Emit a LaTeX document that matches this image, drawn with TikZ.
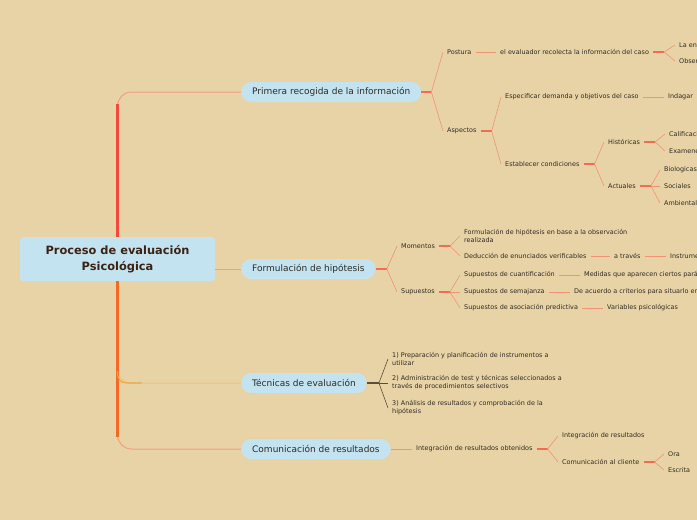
\documentclass[tikz,border=0pt]{standalone}
\usepackage{fontspec}
\setmainfont{DejaVu Sans}
\definecolor{paper}{HTML}{E8D3A7}
\definecolor{bubble}{HTML}{C4E3F0}
\definecolor{ink}{HTML}{2F2A22}
\definecolor{rootink}{HTML}{3B2314}
\definecolor{salmon}{HTML}{EF9475}
\definecolor{stubred}{HTML}{EE6E52}
\definecolor{trunkred}{HTML}{F04C3B}
\definecolor{trunkorange}{HTML}{F36A23}
\definecolor{amber}{HTML}{F7A43A}
\definecolor{paleamber}{HTML}{F2C27A}
\definecolor{palesalmon}{HTML}{EFA07E}
\definecolor{bark}{HTML}{5C4D3A}
\tikzset{
  root/.style={fill=bubble, rounded corners=3pt, minimum width=195pt, minimum height=44pt,
    align=center, text=rootink, font=\fontsize{11.4}{16}\selectfont\bfseries},
  topic/.style={fill=bubble, rounded corners=10pt, minimum height=20pt, inner xsep=11pt,
    anchor=west, text=ink, font=\fontsize{9}{10}\selectfont},
  leaf/.style={anchor=west, inner xsep=4pt, inner ysep=1pt, align=left, text=ink,
    font=\fontsize{6.45}{8}\selectfont},
  link/.style={draw=salmon, line width=0.6pt},
  stub/.style={draw=stubred, line width=1.1pt},
  graylink/.style={draw=bark, line width=0.6pt},
  graystub/.style={draw=bark, line width=1.2pt}
}
\begin{document}
\begin{tikzpicture}[x=1pt,y=-1pt]
    \fill[paper] (0,0) rectangle (697,520);
    \useasboundingbox (0,0) rectangle (697,520);
    \clip (0,0) rectangle (697,520);
    % main nodes
    \node[root] (root) at (117.5,259) {Proceso de evaluación\\Psicológica};
    \node[topic] (prim) at (241,92) {Primera recogida de la información};
    \node[topic] (form) at (241,269) {Formulación de hipótesis};
    \node[topic] (tecn) at (241,383) {Técnicas de evaluación};
    \node[topic] (comm) at (241,449) {Comunicación de resultados};
    % trunk
    \draw[palesalmon,line width=1pt,rounded corners=14pt] (root.north) |- (prim.west);
    \draw[trunkred,line width=2.4pt] (root.north) -- ([yshift=-12pt]root.north |- prim.west);
    \draw[paleamber,line width=1pt,rounded corners=14pt] (root.south) |- (tecn.west);
    \draw[palesalmon,line width=1pt,rounded corners=14pt] (root.south) |- (comm.west);
    \draw[trunkorange,line width=2.4pt] (root.south) -- ([yshift=12pt]root.south |- comm.west);
    \draw[amber,line width=1.2pt,rounded corners=9pt] ([yshift=12pt]root.south |- tecn.west) |- ([xshift=24pt]root.south |- tecn.west);
    \draw[palesalmon,line width=1pt] (root.east |- form.west) -- (form.west);
    % Primera recogida de la informacion
    \node[leaf] (post) at (443,52) {Postura};
    \node[leaf] (evalr) at (496,52) {el evaluador recolecta la información del caso};
    \node[leaf] (entr) at (675,45) {La entrevista};
    \node[leaf] (obs) at (675,61) {Observación};
    \node[leaf] (asp) at (443,131) {Aspectos};
    \node[leaf] (espec) at (501,97) {Especificar demanda y objetivos del caso};
    \node[leaf] (indag) at (664,97) {Indagar};
    \node[leaf] (estab) at (501,164) {Establecer condiciones};
    \node[leaf] (hist) at (604,142) {Históricas};
    \node[leaf] (calif) at (665,134) {Calificaciones};
    \node[leaf] (exam) at (665,151) {Examenes};
    \node[leaf] (actu) at (604,186) {Actuales};
    \node[leaf] (biol) at (660,170) {Biologicas};
    \node[leaf] (soc) at (660,186) {Sociales};
    \node[leaf] (amb) at (660,203) {Ambientales};
    \coordinate (fPrim) at ([xshift=10pt]prim.east);
    \coordinate (fEval) at ([xshift=11pt]evalr.east);
    \coordinate (fAsp) at ([xshift=11pt]asp.east);
    \coordinate (fEstab) at ([xshift=11pt]estab.east);
    \coordinate (fHist) at ([xshift=11pt]hist.east);
    \coordinate (fActu) at ([xshift=11pt]actu.east);
    \draw[stub] (prim.east) -- (fPrim);
    \draw[link] (fPrim) -- (post.west);
    \draw[link] (fPrim) -- (asp.west);
    \draw[link] (post.east) -- (evalr.west);
    \draw[stub] (evalr.east) -- (fEval);
    \draw[link] (fEval) -- (entr.west);
    \draw[link] (fEval) -- (obs.west);
    \draw[stub] (asp.east) -- (fAsp);
    \draw[link] (fAsp) -- (espec.west);
    \draw[link] (fAsp) -- (estab.west);
    \draw[link] (espec.east) -- (indag.west);
    \draw[stub] (estab.east) -- (fEstab);
    \draw[link] (fEstab) -- (hist.west);
    \draw[link] (fEstab) -- (actu.west);
    \draw[stub] (hist.east) -- (fHist);
    \draw[link] (fHist) -- (calif.west);
    \draw[link] (fHist) -- (exam.west);
    \draw[stub] (actu.east) -- (fActu);
    \draw[link] (fActu) -- (biol.west);
    \draw[link] (fActu) -- (soc.west);
    \draw[link] (fActu) -- (amb.west);
    % Formulacion de hipotesis
    \node[leaf] (mom) at (397,246) {Momentos};
    \node[leaf] (sup) at (397,292) {Supuestos};
    \node[leaf] (fobs) at (460,236) {Formulación de hipótesis en base a la observación\\realizada};
    \node[leaf] (deduc) at (460,256) {Deducción de enunciados verificables};
    \node[leaf] (atrav) at (610,256) {a través};
    \node[leaf] (instr) at (666,256) {Instrumentos};
    \node[leaf] (cuant) at (460,275) {Supuestos de cuantificación};
    \node[leaf] (medid) at (580,275) {Medidas que aparecen ciertos parámetros};
    \node[leaf] (semej) at (460,292) {Supuestos de semajanza};
    \node[leaf] (crit) at (570,292) {De acuerdo a criterios para situarlo en};
    \node[leaf] (asoc) at (460,308) {Supuestos de asociación predictiva};
    \node[leaf] (varps) at (603,308) {Variables psicológicas};
    \coordinate (fForm) at ([xshift=11pt]form.east);
    \coordinate (fMom) at ([xshift=11pt]mom.east);
    \coordinate (fSup) at ([xshift=11pt]sup.east);
    \draw[stub] (form.east) -- (fForm);
    \draw[link] (fForm) -- (mom.west);
    \draw[link] (fForm) -- (sup.west);
    \draw[stub] (mom.east) -- (fMom);
    \draw[link] (fMom) -- (fobs.west);
    \draw[link] (fMom) -- (deduc.west);
    \draw[link] (deduc.east) -- (atrav.west);
    \draw[link] (atrav.east) -- (instr.west);
    \draw[stub] (sup.east) -- (fSup);
    \draw[link] (fSup) -- (cuant.west);
    \draw[link] (fSup) -- (semej.west);
    \draw[link] (fSup) -- (asoc.west);
    \draw[link] (cuant.east) -- (medid.west);
    \draw[link] (semej.east) -- (crit.west);
    \draw[link] (asoc.east) -- (varps.west);
    % Tecnicas de evaluacion
    \node[leaf] (prep) at (388,359) {1) Preparación y planificación de instrumentos a\\utilizar};
    \node[leaf] (admin) at (388,383) {2) Administración de test y técnicas seleccionados a\\través de procedimientos selectivos};
    \node[leaf] (anal) at (388,408) {3) Análisis de resultados y comprobación de la\\hipótesis};
    \coordinate (fTecn) at ([xshift=12pt]tecn.east);
    \draw[graystub] (tecn.east) -- (fTecn);
    \draw[graylink] (fTecn) -- (prep.west);
    \draw[graylink] (fTecn) -- (admin.west);
    \draw[graylink] (fTecn) -- (anal.west);
    % Comunicacion de resultados
    \node[leaf] (integ) at (412,449) {Integración de resultados obtenidos};
    \node[leaf] (intres) at (558,436) {Integración de resultados};
    \node[leaf] (comcl) at (558,462) {Comunicación al cliente};
    \node[leaf] (oral) at (664,454) {Ora};
    \node[leaf] (escr) at (664,470) {Escrita};
    \coordinate (fInteg) at ([xshift=11pt]integ.east);
    \coordinate (fComcl) at ([xshift=11pt]comcl.east);
    \draw[link] (comm.east) -- (integ.west);
    \draw[stub] (integ.east) -- (fInteg);
    \draw[link] (fInteg) -- (intres.west);
    \draw[link] (fInteg) -- (comcl.west);
    \draw[stub] (comcl.east) -- (fComcl);
    \draw[link] (fComcl) -- (oral.west);
    \draw[link] (fComcl) -- (escr.west);
\end{tikzpicture}
\end{document}
